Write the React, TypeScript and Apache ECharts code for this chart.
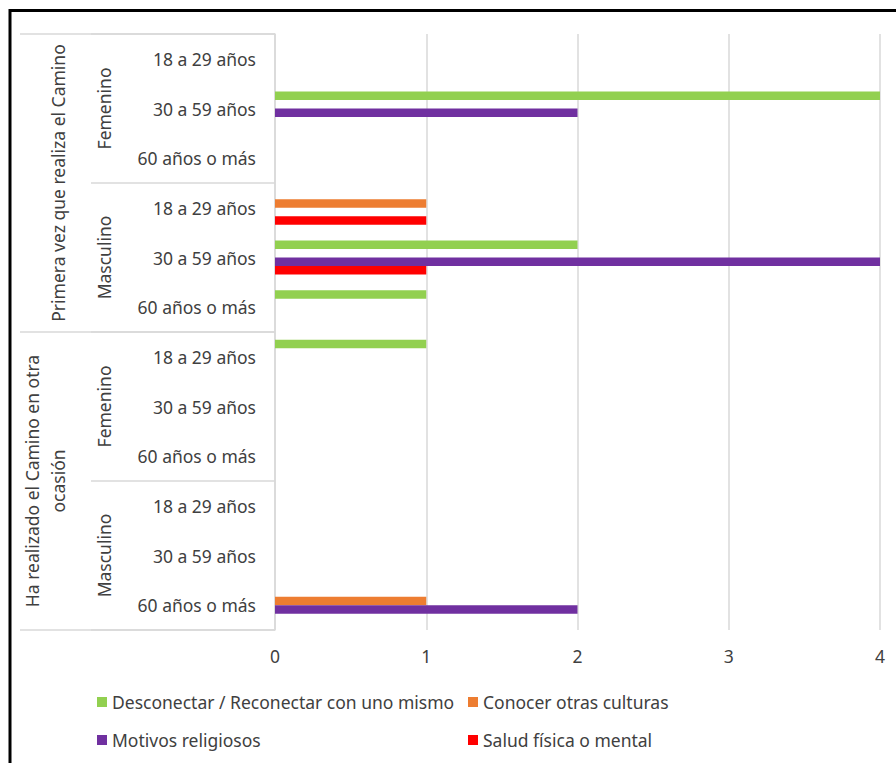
import React, { useEffect, useRef } from "react";
import * as echarts from "echarts";

const ageLabels = [
  "18 a 29 años", "30 a 59 años", "60 años o más",
  "18 a 29 años", "30 a 59 años", "60 años o más",
  "18 a 29 años", "30 a 59 años", "60 años o más",
  "18 a 29 años", "30 a 59 años", "60 años o más",
];
const genderLabels = ["Femenino", "Masculino", "Femenino", "Masculino"];
const groupLabels = [
  "Primera vez que realiza el Camino",
  "Ha realizado el Camino en otra\nocasión",
];
const xTicks = [0, 1, 2, 3, 4];

const seriesNames = [
  "Desconectar / Reconectar con uno mismo",
  "Conocer otras culturas",
  "Motivos religiosos",
  "Salud física o mental",
];
const seriesColors = ["#92d050", "#ed7d31", "#7030a0", "#ff0000"];

const desconectar = [0, 4, 0, 0, 2, 1, 1, 0, 0, 0, 0, 0];
const culturas = [0, 0, 0, 1, 0, 0, 0, 0, 0, 0, 0, 1];
const religiosos = [0, 2, 0, 0, 4, 0, 0, 0, 0, 0, 0, 2];
const salud = [0, 0, 0, 1, 1, 0, 0, 0, 0, 0, 0, 0];
const seriesValues = [desconectar, culturas, religiosos, salud];

const FONT = "Noto Sans";
const TXT = "#404040";
const LINE = "#d9d9d9";

export default function App() {
  const ref = useRef<HTMLDivElement>(null);
  useEffect(() => {
    if (!ref.current) return;
    const chart = echarts.init(ref.current, null, { renderer: "svg" });
    const option: any = {
      animation: false,
      backgroundColor: "#ffffff",
      textStyle: { fontFamily: FONT },
      grid: { left: 275, right: 16, top: 34, bottom: 133, containLabel: false },
      xAxis: {
        type: "value",
        min: xTicks[0],
        max: xTicks[xTicks.length - 1],
        interval: 1,
        axisLine: { show: false },
        axisTick: { show: false },
        splitLine: { show: true, lineStyle: { color: LINE, width: 1.5 } },
        axisLabel: { color: TXT, fontSize: 17.5, fontFamily: FONT, margin: 17 },
      },
      yAxis: [
        {
          type: "category",
          data: ageLabels,
          inverse: true,
          position: "left",
          axisLine: { show: true, lineStyle: { color: LINE, width: 1.5 } },
          axisTick: { show: false },
          axisLabel: { color: TXT, fontSize: 17.5, fontFamily: FONT, margin: 19, interval: 0 },
        },
        {
          type: "category",
          data: genderLabels,
          inverse: true,
          position: "left",
          axisLine: { show: false },
          axisTick: { show: true, length: 184, lineStyle: { color: LINE, width: 1.5 } },
          axisLabel: { color: TXT, fontSize: 17.5, fontFamily: FONT, margin: 162, rotate: 90, interval: 0 },
        },
        {
          type: "category",
          data: groupLabels,
          inverse: true,
          position: "left",
          axisLine: { show: false },
          axisTick: { show: true, length: 255, lineStyle: { color: LINE, width: 1.5 } },
          axisLabel: {
            color: TXT, fontSize: 17.5, fontFamily: FONT, margin: 204, rotate: 90,
            interval: 0, align: "center", lineHeight: 26,
          },
        },
      ],
      legend: [
        {
          orient: "vertical",
          left: 97,
          top: 692,
          padding: 0,
          itemWidth: 10,
          itemHeight: 10,
          itemGap: 18,
          icon: "rect",
          data: [seriesNames[0], seriesNames[2]],
          textStyle: { color: TXT, fontSize: 17.5, fontFamily: FONT, lineHeight: 20 },
        },
        {
          orient: "vertical",
          left: 468,
          top: 692,
          padding: 0,
          itemWidth: 10,
          itemHeight: 10,
          itemGap: 18,
          icon: "rect",
          data: [seriesNames[1], seriesNames[3]],
          textStyle: { color: TXT, fontSize: 17.5, fontFamily: FONT, lineHeight: 20 },
        },
      ],
      graphic: [
        {
          type: "rect",
          shape: { x: 10, y: 10.5, width: 1000, height: 1000 },
          style: { fill: "none", stroke: "#000000", lineWidth: 3 },
          silent: true,
        },
      ],
      series: seriesNames.map((name, i) => ({
        name,
        type: "bar",
        yAxisIndex: 0,
        data: seriesValues[i],
        barWidth: 8.5,
        barGap: "0%",
        itemStyle: { color: seriesColors[i] },
      })),
    };
    chart.setOption(option);
    return () => chart.dispose();
  }, []);
  return (
    <div
      ref={ref}
      style={{ position: "fixed", left: 0, top: 0, width: 896, height: 763 }}
    />
  );
}
